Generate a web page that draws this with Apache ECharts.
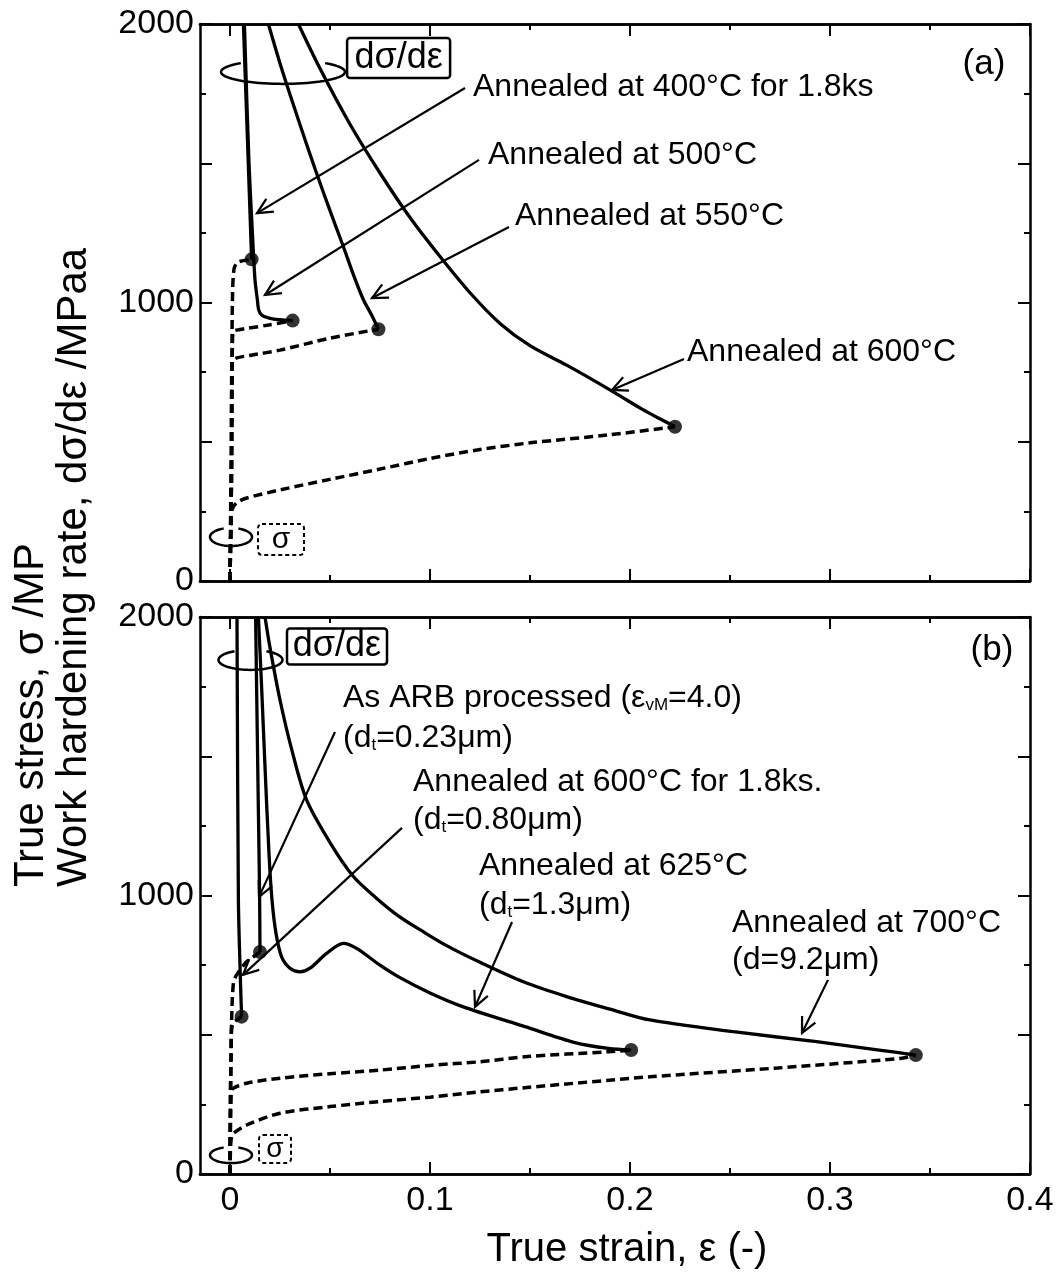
<!DOCTYPE html>
<html>
<head>
<meta charset="utf-8">
<script src="https://cdn.jsdelivr.net/npm/echarts@6/dist/echarts.min.js"></script>
<style>
html, body { margin: 0; background: #fff; }
#chart { width: 1058px; height: 1277px; }
</style>
</head>
<body>
<div id="chart"></div>
<script>
// tick values
const xMajor = [0, 0.1, 0.2, 0.3, 0.4];
const xMinor = [0.05, 0.15, 0.25, 0.35];

// panel (a)  [true strain, MPa]
const a400Stress = [[0,0],[0.0008,400],[0.001,800],[0.0012,1000],[0.002,1120],[0.004,1145],[0.0108,1155]];
const a400Rate = [[0.0067,2000],[0.0088,1570],[0.0108,1155]];
const a500Stress = [[0,0],[0.0008,400],[0.001,700],[0.0012,850],[0.0016,895],[0.005,903],[0.0083,907],[0.02,920],[0.0313,935]];
const a500Rate = [[0.0072,2000],[0.0095,1500],[0.0112,1250],[0.0125,1081],[0.0137,1009],[0.0143,975],[0.0158,955],[0.02,943],[0.025,938],[0.0313,935]];
const a550Stress = [[0,0],[0.0005,400],[0.0008,700],[0.001,787],[0.003,800],[0.01,810],[0.025,829],[0.05,872],[0.0742,904]];
const a550Rate = [[0.0192,2000],[0.0258,1840],[0.034,1660],[0.0425,1480],[0.05,1330],[0.0567,1200],[0.0617,1100],[0.0667,1010],[0.0708,955],[0.0742,904]];
const a600Stress = [[0,0],[0.0005,200],[0.001,255],[0.003,279],[0.008,297],[0.025,327],[0.05,365],[0.075,402],[0.1,440],[0.125,472],[0.15,496],[0.19,525],[0.2225,554]];
const a600Rate = [[0.0342,2000],[0.045,1840],[0.06,1640],[0.075,1465],[0.09,1305],[0.105,1165],[0.12,1035],[0.135,925],[0.15,845],[0.1683,775],[0.1829,716],[0.1933,672],[0.2058,618],[0.2142,585],[0.2225,554]];

// panel (b)
const bArbStress = [[0,0],[0.0002,250],[0.0005,420],[0.0008,520],[0.002,545],[0.0058,565]];
const bArbRate = [[0.0035,2000],[0.0042,984],[0.0052,700],[0.0058,565]];
const b600Stress = [[0,0],[0.0002,250],[0.0005,420],[0.0008,550],[0.0017,685],[0.0033,715],[0.0083,762],[0.0117,780],[0.015,797]];
const b600Rate = [[0.0128,2000],[0.0142,1300],[0.0148,1000],[0.015,797]];
const b625Stress = [[0,0],[0.0003,200],[0.0006,290],[0.001,305],[0.0083,326],[0.025,344],[0.05,360],[0.075,373],[0.1,390],[0.125,403],[0.1475,421],[0.1892,439],[0.2006,445]];
const b625Rate = [[0.0142,2000],[0.0158,1750],[0.0175,1463],[0.0195,1150],[0.021,984],[0.023,864],[0.0258,780],[0.03,739],[0.035,726],[0.04,739],[0.0483,792],[0.0567,828],[0.0633,810],[0.075,750],[0.085,705],[0.1,650],[0.1163,601],[0.1475,529],[0.1725,472],[0.1892,451],[0.2006,445]];
const b700Stress = [[0,0],[0.0003,100],[0.0008,134],[0.0017,146],[0.0083,176],[0.025,218],[0.05,242],[0.075,260],[0.1,276],[0.125,295],[0.1475,310],[0.21,349],[0.2725,380],[0.335,415],[0.3429,427]];
const b700Rate = [[0.0175,2000],[0.02,1890],[0.025,1702],[0.031,1520],[0.0383,1343],[0.05,1190],[0.0617,1068],[0.0725,995],[0.0845,925],[0.0966,870],[0.1083,820],[0.125,760],[0.1467,690],[0.1683,637],[0.19,592],[0.21,553],[0.2517,511],[0.2933,475],[0.3246,445],[0.3429,427]];

// annotation texts and anchors (data units)
const aLabels = [
	['Annealed at 400°C for 1.8ks', 0.1215, 1774],
	['Annealed at 500°C', 0.129, 1530],
	['Annealed at 550°C', 0.1425, 1311],
	['Annealed at 600°C', 0.2285, 822]
];
const aArrows = [[0.1175,1770,0.0135,1321],[0.1245,1512,0.0175,1027],[0.1395,1271,0.071,1016],[0.227,797,0.191,686]];
const bLabels = [
	['As ARB processed (ε{s|vM}=4.0)', 0.0565, 1709],
	['(d{s|t}=0.23μm)', 0.0565, 1566],
	['Annealed at 600°C for 1.8ks.', 0.0915, 1408],
	['(d{s|t}=0.80μm)', 0.0915, 1271],
	['Annealed at 625°C', 0.1245, 1106],
	['(d{s|t}=1.3μm)', 0.1245, 966],
	['Annealed at 700°C', 0.251, 901],
	['(d=9.2μm)', 0.251, 768]
];
const bArrows = [[0.0525,1587,0.0145,995],[0.086,1243,0.0065,715],[0.141,905,0.1225,600],[0.299,697,0.286,506]];

const FONT = '"Liberation Sans", Arial, sans-serif';
const chart = echarts.init(document.getElementById('chart'));

function xAxisSet(grid, labels) {
	var base = {
		gridIndex: grid, type: 'value', min: -0.015, max: 0.4,
		splitLine: {show: false},
		axisLine: {show: true, onZero: false, lineStyle: {color: '#000', width: 2.5}}
	};
	var major = {inside: true, length: 12, customValues: xMajor, lineStyle: {color: '#000', width: 2}};
	var minor = {inside: true, length: 6, customValues: xMinor, lineStyle: {color: '#000', width: 2}};
	return [
		Object.assign({}, base, {position: 'bottom', axisTick: major, axisLabel: {
			show: labels, customValues: xMajor, fontSize: 34, fontFamily: FONT, color: '#000', margin: 10,
			formatter: function(v) { return String(+(+v).toFixed(2)); }
		}}),
		Object.assign({}, base, {position: 'bottom', axisTick: minor, axisLabel: {show: false}}),
		Object.assign({}, base, {position: 'top', axisTick: major, axisLabel: {show: false}}),
		Object.assign({}, base, {position: 'top', axisTick: minor, axisLabel: {show: false}})
	];
}

function yAxisSet(grid) {
	var base = {
		gridIndex: grid, type: 'value', min: 0, max: 2000, interval: 500,
		splitLine: {show: false},
		axisLine: {show: true, onZero: false, lineStyle: {color: '#000', width: 2.5}},
		axisTick: {inside: true, length: 12, lineStyle: {color: '#000', width: 2}},
		minorTick: {show: true, splitNumber: 2, length: 6, lineStyle: {color: '#000', width: 2}}
	};
	return [
		Object.assign({}, base, {position: 'left', axisLabel: {
			fontSize: 34, fontFamily: FONT, color: '#000', margin: 6,
			formatter: function(v) { return v % 1000 === 0 ? String(v) : ''; }
		}}),
		Object.assign({}, base, {position: 'right', axisLabel: {show: false}})
	];
}

function curve(data, grid, dashed) {
	return {
		type: 'line', xAxisIndex: grid * 4, yAxisIndex: grid * 2, data: data,
		symbol: 'none', smooth: 0.3, clip: true, z: 3,
		lineStyle: {color: '#000', width: dashed ? 3.5 : 3.3, type: dashed ? [9, 5] : 'solid'}
	};
}

var panels = [
	{stress: [a400Stress, a500Stress, a550Stress, a600Stress], rate: [a400Rate, a500Rate, a550Rate, a600Rate]},
	{stress: [bArbStress, b600Stress, b625Stress, b700Stress], rate: [bArbRate, b600Rate, b625Rate, b700Rate]}
];

var series = [];
panels.forEach(function(p, g) {
	p.stress.forEach(function(d) { series.push(curve(d, g, true)); });
	p.rate.forEach(function(d) { series.push(curve(d, g, false)); });
	series.push({
		type: 'scatter', xAxisIndex: g * 4, yAxisIndex: g * 2, z: 5,
		data: p.rate.map(function(d) { return d[d.length - 1]; }),
		symbolSize: 14, itemStyle: {color: '#000'}
	});
});

chart.setOption({
	animation: false,
	backgroundColor: '#fff',
	grid: [
		{left: 200, top: 24, width: 830, height: 557},
		{left: 200, top: 617, width: 830, height: 557}
	],
	xAxis: xAxisSet(0, false).concat(xAxisSet(1, true)),
	yAxis: yAxisSet(0).concat(yAxisSet(1)),
	series: series
});

// annotations, placed from data coordinates
function px(g, x, y) { return chart.convertToPixel({gridIndex: g}, [x, y]); }

var subStyle = {font: '17px ' + FONT, verticalAlign: 'bottom', fill: '#000'};

function label(g, l, size) {
	var p = px(g, l[1], l[2]);
	return {type: 'text', x: p[0], y: p[1], z: 50, style: {
		text: l[0], font: (size || 32) + 'px ' + FONT, fill: '#000',
		align: 'left', verticalAlign: 'middle', textAlign: 'left', textVerticalAlign: 'middle',
		rich: {s: subStyle}
	}};
}

function arrow(g, a) {
	var p0 = px(g, a[0], a[1]), p1 = px(g, a[2], a[3]);
	var ang = Math.atan2(p0[1] - p1[1], p0[0] - p1[0]);
	var L = 17, h = 0.45;
	var w1 = [p1[0] + L * Math.cos(ang + h), p1[1] + L * Math.sin(ang + h)];
	var w2 = [p1[0] + L * Math.cos(ang - h), p1[1] + L * Math.sin(ang - h)];
	return [
		{type: 'polyline', z: 50, shape: {points: [p0, p1]}, style: {stroke: '#000', lineWidth: 2.2, fill: null}},
		{type: 'polyline', z: 50, shape: {points: [w1, p1, w2]}, style: {stroke: '#000', lineWidth: 2.2, fill: null}}
	];
}

// ring drawn round a bundle of curves, open on the top where the curves pass
function ring(g, x, y, rx, ry, open) {
	var c = px(g, x, y), pts = [];
	var a = Math.acos(open);
	for (var t = -a; t <= Math.PI + a + 1e-6; t += (Math.PI + 2 * a) / 60) {
		pts.push([c[0] + rx * Math.cos(t), c[1] + ry * Math.sin(t)]);
	}
	return {type: 'polyline', z: 50, shape: {points: pts}, style: {stroke: '#000', lineWidth: 2.5, fill: null}};
}

function box(g, text, x, y, w, h, dashed, size) {
	var c = px(g, x, y);
	return [
		{type: 'rect', z: 50, shape: {x: c[0] - w / 2, y: c[1] - h / 2, width: w, height: h, r: dashed ? 4 : 3},
			style: {stroke: '#000', lineWidth: dashed ? 2 : 2.5, fill: '#fff', lineDash: dashed ? [4, 3] : null}},
		{type: 'text', z: 51, x: c[0], y: c[1], style: {text: text, font: size + 'px ' + FONT, fill: '#000',
			align: 'center', verticalAlign: 'middle', textAlign: 'center', textVerticalAlign: 'middle'}}
	];
}

var els = [];
aLabels.forEach(function(l) { els.push(label(0, l)); });
bLabels.forEach(function(l) { els.push(label(1, l)); });
aArrows.forEach(function(a) { els = els.concat(arrow(0, a)); });
bArrows.forEach(function(a) { els = els.concat(arrow(1, a)); });

els.push(ring(0, 0.0265, 1828, 62, 12, 0.68));
els.push(ring(0, 0.0005, 158, 21, 9, 0.35));
els.push(ring(1, 0.01025, 1846, 32, 10, 0.5));
els.push(ring(1, 0.0005, 68, 21, 8, 0.35));
els = els.concat(box(0, 'dσ/dε', 0.0843, 1878, 103, 40, false, 36));
els = els.concat(box(0, 'σ', 0.0255, 149, 46, 31, true, 30));
els = els.concat(box(1, 'dσ/dε', 0.0535, 1894, 100, 36, false, 36));
els = els.concat(box(1, 'σ', 0.0225, 90, 32, 28, true, 28));

var tagA = px(0, 0.377, 1856), tagB = px(1, 0.381, 1882);
[['(a)', tagA], ['(b)', tagB]].forEach(function(t) {
	els.push({type: 'text', z: 50, x: t[1][0], y: t[1][1], style: {text: t[0], font: '35px ' + FONT, fill: '#000',
		align: 'center', verticalAlign: 'middle', textAlign: 'center', textVerticalAlign: 'middle'}});
});

// axis titles
els.push({type: 'text', z: 50, x: 627, y: 1250, style: {text: 'True strain, ε (-)', font: '40px ' + FONT, fill: '#000',
	align: 'center', verticalAlign: 'middle', textAlign: 'center', textVerticalAlign: 'middle'}});
els.push({type: 'text', z: 50, x: 31, y: 887, rotation: Math.PI / 2, style: {text: 'True stress, σ /MP', font: '42px ' + FONT, fill: '#000',
	align: 'left', verticalAlign: 'middle', textAlign: 'left', textVerticalAlign: 'middle'}});
els.push({type: 'text', z: 50, x: 74, y: 887, rotation: Math.PI / 2, style: {text: 'Work hardening rate, dσ/dε /MPaa', font: '42px ' + FONT, fill: '#000',
	align: 'left', verticalAlign: 'middle', textAlign: 'left', textVerticalAlign: 'middle'}});

chart.setOption({graphic: {elements: els}});
</script>
</body>
</html>
